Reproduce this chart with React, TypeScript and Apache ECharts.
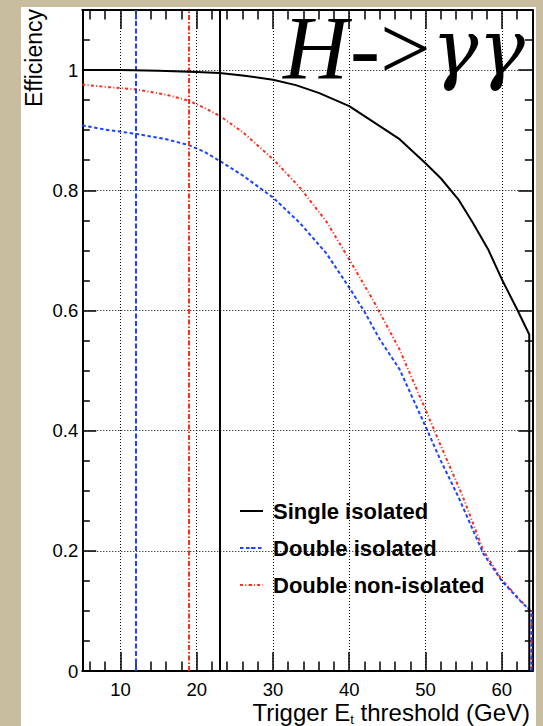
import React, { useEffect, useRef } from 'react';
import * as echarts from 'echarts';

// ---- axis ticks ----
const xMajorTicks = [10, 20, 30, 40, 50, 60];
const xMinorTicks = [6, 8, 12, 14, 16, 18, 22, 24, 26, 28, 32, 34, 36, 38, 42, 44, 46, 48, 52, 54, 56, 58, 62];
const yMajorTicks = [0, 0.2, 0.4, 0.6, 0.8, 1];
const yMinorTicks = [0.05, 0.1, 0.15, 0.25, 0.3, 0.35, 0.45, 0.5, 0.55, 0.65, 0.7, 0.75, 0.85, 0.9, 0.95, 1.05];
const xGridLines = [10, 20, 30, 40, 50, 60];
const yGridLines = [0.2, 0.4, 0.6, 0.8, 1];

// ---- series names ----
const seriesNames = ['Single isolated', 'Double isolated', 'Double non-isolated'];

// ---- Single isolated ----
const singleX = [5, 10, 15, 20, 23, 26, 30, 33, 36, 40, 43, 46.6, 50, 52, 54.3, 56.2, 58.2, 60, 62, 63.6, 63.6];
const singleY = [1.0, 1.0, 0.999, 0.997, 0.995, 0.991, 0.984, 0.975, 0.962, 0.94, 0.915, 0.885, 0.845, 0.82, 0.785, 0.746, 0.702, 0.652, 0.602, 0.56, 0];

// ---- Double isolated ----
const doubleIsoX = [5, 8, 12, 16, 19, 21, 23, 26, 30, 33.5, 37, 40, 42, 44, 46.6, 50, 52, 54.3, 57.6, 60, 62.4, 63.6, 63.9, 63.9];
const doubleIsoY = [0.908, 0.901, 0.894, 0.885, 0.875, 0.864, 0.849, 0.825, 0.788, 0.746, 0.695, 0.638, 0.598, 0.552, 0.502, 0.407, 0.35, 0.29, 0.195, 0.15, 0.117, 0.102, 0.098, 0];

// ---- Double non-isolated ----
const doubleNonIsoX = [5, 8, 12, 16, 19, 21, 23, 26, 30, 33.5, 37, 40, 43, 46.6, 50, 52, 54.9, 57.6, 60, 62.4, 63.6, 63.9, 63.9];
const doubleNonIsoY = [0.976, 0.972, 0.968, 0.959, 0.949, 0.937, 0.924, 0.897, 0.852, 0.805, 0.748, 0.685, 0.62, 0.535, 0.435, 0.375, 0.29, 0.2, 0.152, 0.118, 0.103, 0.1, 0];

// ---- trigger thresholds (vertical lines) ----
const singleThreshold = 23;
const doubleIsoThreshold = 12;
const doubleNonIsoThreshold = 19;

const X_MIN = 5;
const X_MAX = 64;
const Y_MIN = 0;
const Y_MAX = 1.1;

const FONT = '"Liberation Sans", Arial, Helvetica, sans-serif';
const SERIF = '"Liberation Serif", "Times New Roman", serif';
const GREEK = '"DejaVu Serif", "Liberation Serif", serif';

function pairs(xs: number[], ys: number[]) {
  return xs.map((x, i) => [x, ys[i]]);
}

function xAxisDef(position: 'top' | 'bottom', values: number[], len: number, showLabel: boolean, showLine: boolean) {
  return {
    type: 'value',
    position,
    min: X_MIN,
    max: X_MAX,
    axisLine: { show: showLine, onZero: false, lineStyle: { color: '#000', width: 2 } },
    axisTick: { show: true, inside: true, length: len, customValues: values, lineStyle: { color: '#000', width: 1.5 } },
    axisLabel: {
      show: showLabel,
      customValues: values,
      color: '#000',
      fontSize: 18.5,
      fontFamily: FONT,
      margin: 9,
    },
    splitLine: { show: false },
  };
}

function yAxisDef(position: 'left' | 'right', values: number[], len: number, showLabel: boolean, showLine: boolean) {
  return {
    type: 'value',
    position,
    min: Y_MIN,
    max: Y_MAX,
    axisLine: { show: showLine, onZero: false, lineStyle: { color: '#000', width: 2 } },
    axisTick: { show: true, inside: true, length: len, customValues: values, lineStyle: { color: '#000', width: 1.5 } },
    axisLabel: {
      show: showLabel,
      customValues: values,
      color: '#000',
      fontSize: 18.5,
      fontFamily: FONT,
      margin: 4,
      formatter: (v: number) => String(Math.round(v * 10) / 10),
    },
    splitLine: { show: false },
  };
}

export default function App() {
  const ref = useRef<HTMLDivElement>(null);

  useEffect(() => {
    if (!ref.current) return;
    const chart = echarts.init(ref.current, null, { renderer: 'svg' });
    const option: any = {
      animation: false,
      backgroundColor: 'transparent',
      grid: { left: 82.3, right: 10.7, top: 10, bottom: 55, outerBoundsMode: 'none', containLabel: false },
      xAxis: [
        xAxisDef('bottom', xMajorTicks, 19, true, true),
        xAxisDef('bottom', xMinorTicks, 9.5, false, false),
        xAxisDef('top', xMajorTicks, 19, false, true),
        xAxisDef('top', xMinorTicks, 9.5, false, false),
      ],
      yAxis: [
        yAxisDef('left', yMajorTicks, 14, true, true),
        yAxisDef('left', yMinorTicks, 7.5, false, false),
        yAxisDef('right', yMajorTicks, 14, false, true),
        yAxisDef('right', yMinorTicks, 7.5, false, false),
      ],
      legend: {
        data: seriesNames,
        orient: 'vertical',
        left: 239,
        top: 500,
        padding: 0,
        itemGap: 15,
        itemWidth: 23,
        itemHeight: 2,
        textStyle: { color: '#000', fontSize: 22, fontWeight: 'bold', fontFamily: FONT, padding: [0, 0, 0, 5] },
        selectedMode: false,
      },
      graphic: [
        {
          type: 'text',
          x: 34,
          y: 9,
          rotation: Math.PI / 2,
          z: 10,
          style: {
            text: 'Efficiency',
            fill: '#000',
            fontSize: 23,
            fontFamily: FONT,
            textAlign: 'right',
            textVerticalAlign: 'middle',
          },
        },
        {
          type: 'text',
          x: 283,
          y: 48,
          z: 10,
          style: {
            text: '{h|H}{m|->}{g|γγ}',
            fill: '#000',
            textAlign: 'left',
            textVerticalAlign: 'middle',
            rich: {
              h: { fontSize: 90, fontStyle: 'italic', fontFamily: SERIF, fill: '#000', color: '#000', lineHeight: 90 },
              m: { fontSize: 90, fontFamily: SERIF, fill: '#000', color: '#000', lineHeight: 90, padding: [0, 1, 0, 2] },
              g: { fontSize: 78, fontStyle: 'italic', fontFamily: GREEK, fill: '#000', color: '#000', lineHeight: 90 },
            },
          },
        },
        {
          type: 'text',
          x: 530,
          y: 700,
          z: 10,
          style: {
            text: '{a|Trigger E}{s|t}{a| threshold (GeV)}',
            fill: '#000',
            textAlign: 'right',
            textVerticalAlign: 'top',
            rich: {
              a: { fontSize: 24, fontFamily: FONT, fill: '#000', color: '#000', padding: [0, 0, 2, 0] },
              s: { fontSize: 13, fontFamily: FONT, fill: '#000', color: '#000', verticalAlign: 'bottom' },
            },
          },
        },
      ],
      series: [
        {
          name: 'grid',
          type: 'line',
          data: [],
          z: 1,
          silent: true,
          markLine: {
            symbol: 'none',
            silent: true,
            animation: false,
            label: { show: false },
            lineStyle: { color: '#000', width: 1, type: [1, 2] },
            data: [
              ...xGridLines.map((v) => ({ xAxis: v })),
              ...yGridLines.map((v) => ({ yAxis: v })),
            ],
          },
        },
        {
          name: seriesNames[0],
          type: 'line',
          data: pairs(singleX, singleY),
          symbol: 'none',
          showSymbol: false,
          z: 5,
          lineStyle: { color: '#000', width: 2, type: 'solid' },
          itemStyle: { color: '#000' },
          markLine: {
            symbol: 'none',
            silent: true,
            animation: false,
            label: { show: false },
            lineStyle: { color: '#000', width: 2, type: 'solid' },
            data: [{ xAxis: singleThreshold }],
          },
        },
        {
          name: seriesNames[1],
          type: 'line',
          data: pairs(doubleIsoX, doubleIsoY),
          symbol: 'none',
          showSymbol: false,
          z: 4,
          lineStyle: { color: '#1a44ff', width: 2, type: [3.5, 2.5] },
          itemStyle: { color: '#1a44ff' },
          markLine: {
            symbol: 'none',
            silent: true,
            animation: false,
            label: { show: false },
            lineStyle: { color: '#1a44ff', width: 2, type: [5, 2.5] },
            data: [{ xAxis: doubleIsoThreshold }],
          },
        },
        {
          name: seriesNames[2],
          type: 'line',
          data: pairs(doubleNonIsoX, doubleNonIsoY),
          symbol: 'none',
          showSymbol: false,
          z: 3,
          lineStyle: { color: '#ff2d1a', width: 2, type: [3, 2.3, 1, 2.3] },
          itemStyle: { color: '#ff2d1a' },
          markLine: {
            symbol: 'none',
            silent: true,
            animation: false,
            label: { show: false },
            lineStyle: { color: '#ff2d1a', width: 2, type: [5, 2, 1.5, 2] },
            data: [{ xAxis: doubleNonIsoThreshold }],
          },
        },
      ],
    };
    chart.setOption(option);
    return () => chart.dispose();
  }, []);

  return (
    <div style={{ position: 'fixed', left: 0, top: 0, width: 543, height: 726, background: '#c8bd9e', overflow: 'hidden' }}>
      <div style={{ position: 'absolute', left: 21, top: 7, width: 515, height: 719, background: '#ffffff' }} />
      <div ref={ref} style={{ position: 'absolute', left: 0, top: 0, width: 543, height: 726 }} />
    </div>
  );
}
